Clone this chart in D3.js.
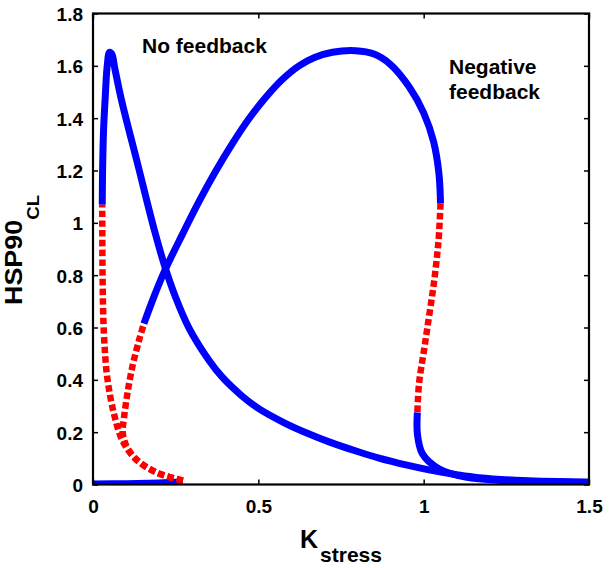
<!DOCTYPE html>
<html>
<head>
<meta charset="utf-8">
<script src="https://cdn.jsdelivr.net/npm/d3@7"></script>
<style>
  html, body { margin: 0; padding: 0; background: #fff; }
  svg { display: block; }
  text { font-family: Arial, "Liberation Sans", Helvetica, sans-serif; font-weight: bold; fill: #000; }
</style>
</head>
<body>
<div id="chart"></div>
<script>
// ---- Data ----
const xTicks = [0, 0.5, 1, 1.5];
const xTickLabels = ["0", "0.5", "1", "1.5"];
const yTicks = [0, 0.2, 0.4, 0.6, 0.8, 1.0, 1.2, 1.4, 1.6, 1.8];
const yTickLabels = ["0", "0.2", "0.4", "0.6", "0.8", "1", "1.2", "1.4", "1.6", "1.8"];

// No feedback: stable low branch (blue)
const noFbLowX = [0.003, 0.1, 0.2, 0.272];
const noFbLowY = [0.006, 0.007, 0.010, 0.013];
// No feedback: unstable branch (red dashed)
const noFbUnstX = [0.272, 0.19, 0.129, 0.089, 0.0635, 0.043, 0.033, 0.029, 0.028];
const noFbUnstY = [0.015, 0.047, 0.098, 0.168, 0.27, 0.41, 0.577, 0.794, 1.069];
// No feedback: stable high branch (blue)
const noFbHighX = [0.028, 0.029, 0.032, 0.037, 0.043, 0.05, 0.057, 0.066, 0.086, 0.136, 0.185, 0.218, 0.25, 0.29, 0.35, 0.391, 0.45, 0.5, 0.58, 0.65, 0.714, 0.8, 0.865, 0.95, 1.016, 1.1, 1.167, 1.3, 1.5];
const noFbHighY = [1.069, 1.2, 1.356, 1.48, 1.6, 1.652, 1.645, 1.59, 1.47, 1.22, 0.975, 0.83, 0.715, 0.599, 0.476, 0.41, 0.339, 0.291, 0.235, 0.195, 0.163, 0.126, 0.101, 0.074, 0.056, 0.0375, 0.026, 0.015, 0.009];

// Negative feedback: lower unstable branch (red dashed)
const negUnst1X = [0.272, 0.19, 0.129, 0.1, 0.09, 0.094, 0.104, 0.119, 0.139, 0.154];
const negUnst1Y = [0.015, 0.047, 0.098, 0.15, 0.2, 0.258, 0.347, 0.45, 0.55, 0.615];
// Negative feedback: high stable branch (blue)
const negHighX = [0.154, 0.185, 0.218, 0.27, 0.32, 0.37, 0.421, 0.47, 0.522, 0.57, 0.623, 0.67, 0.724, 0.794, 0.85, 0.9, 0.956, 1.0, 1.03, 1.046, 1.051];
const negHighY = [0.615, 0.72, 0.82, 0.955, 1.08, 1.195, 1.302, 1.395, 1.479, 1.545, 1.60, 1.632, 1.652, 1.658, 1.645, 1.605, 1.52, 1.42, 1.31, 1.19, 1.075];
// Negative feedback: upper unstable branch (red dashed)
const negUnst2X = [1.051, 1.046, 1.041, 1.031, 1.016, 1.001, 0.986, 0.981];
const negUnst2Y = [1.075, 0.95, 0.88, 0.77, 0.64, 0.513, 0.386, 0.275];
// Negative feedback: low stable branch (blue)
const negLowX = [0.981, 0.981, 0.996, 1.046, 1.127, 1.25, 1.5];
const negLowY = [0.275, 0.194, 0.118, 0.06, 0.028, 0.015, 0.009];

// ---- Layout ----
const W = 610, H = 568;
const mL = 93, mR = 589, mT = 13.5, mB = 484.5;
const blue = "#0000ff", red = "#ff0000";

const svg = d3.select("#chart").append("svg").attr("width", W).attr("height", H);

const x = d3.scaleLinear().domain([0, 1.5]).range([mL, mR]);
const y = d3.scaleLinear().domain([0, 1.8]).range([mB, mT]);

const zip = (xs, ys) => xs.map((v, i) => [v, ys[i]]);
const line = d3.line().x(d => x(d[0])).y(d => y(d[1])).curve(d3.curveCatmullRom.alpha(0.5));

const plot = svg.append("g");
plot.append("clipPath").attr("id", "clip").append("rect")
  .attr("x", mL).attr("y", mT).attr("width", mR - mL).attr("height", mB - mT);
const pg = plot.append("g").attr("clip-path", "url(#clip)");

function drawSolid(xs, ys, w) {
  pg.append("path").attr("d", line(zip(xs, ys)))
    .attr("fill", "none").attr("stroke", blue).attr("stroke-width", w || 7)
    .attr("stroke-linecap", "butt").attr("stroke-linejoin", "round");
}
function drawDashed(xs, ys) {
  pg.append("path").attr("d", line(zip(xs, ys)))
    .attr("fill", "none").attr("stroke", red).attr("stroke-width", 6.5)
    .attr("stroke-dasharray", "6.5,3.2").attr("stroke-linecap", "butt");
}

drawSolid(noFbLowX, noFbLowY, 5);
drawSolid(noFbHighX, noFbHighY);
drawSolid(negHighX, negHighY);
drawSolid(negLowX, negLowY);
drawDashed(noFbUnstX, noFbUnstY);
drawDashed(negUnst1X, negUnst1Y);
drawDashed(negUnst2X, negUnst2Y);

// ---- Axes (box with inward ticks on all sides) ----
const tickLen = 5;
const axB = d3.axisBottom(x).tickValues(xTicks).tickSize(-tickLen).tickFormat((d, i) => xTickLabels[i]).tickSizeOuter(0);
const axT = d3.axisTop(x).tickValues(xTicks).tickSize(-tickLen).tickFormat("").tickSizeOuter(0);
const axL = d3.axisLeft(y).tickValues(yTicks).tickSize(-tickLen).tickFormat((d, i) => yTickLabels[i]).tickSizeOuter(0);
const axR = d3.axisRight(y).tickValues(yTicks).tickSize(-tickLen).tickFormat("").tickSizeOuter(0);

function styleAxis(g) {
  g.select(".domain").remove();
  g.selectAll(".tick line").attr("stroke", "#000").attr("stroke-width", 1.5);
  g.selectAll(".tick text").attr("font-size", 19).attr("font-weight", "bold")
    .attr("font-family", "Arial, 'Liberation Sans', sans-serif").attr("fill", "#000");
}
const gB = svg.append("g").attr("transform", `translate(0,${mB})`).call(axB).call(styleAxis);
gB.selectAll(".tick text").attr("dy", null).attr("y", 28.5);
svg.append("g").attr("transform", `translate(0,${mT})`).call(axT).call(styleAxis);
const gL = svg.append("g").attr("transform", `translate(${mL},0)`).call(axL).call(styleAxis);
gL.selectAll(".tick text").attr("x", -10).attr("dy", "0.36em");
svg.append("g").attr("transform", `translate(${mR},0)`).call(axR).call(styleAxis);

svg.append("rect").attr("x", mL).attr("y", mT).attr("width", mR - mL).attr("height", mB - mT)
  .attr("fill", "none").attr("stroke", "#000").attr("stroke-width", 2.2);

// ---- Annotations ----
svg.append("text").attr("x", 142).attr("y", 53).attr("font-size", 21).text("No feedback");
svg.append("text").attr("x", 449).attr("y", 74).attr("font-size", 21).text("Negative");
svg.append("text").attr("x", 449).attr("y", 99).attr("font-size", 21).text("feedback");

// ---- Axis titles ----
const xl = svg.append("text").attr("x", 300).attr("y", 548).attr("font-size", 25);
xl.append("tspan").text("K");
xl.append("tspan").attr("dx", 2).attr("dy", 14).attr("font-size", 21).text("stress");

const yl = svg.append("text").attr("transform", "translate(22,305) rotate(-90) scale(1.17,1)").attr("font-size", 23);
yl.append("tspan").text("HSP90");
yl.append("tspan").attr("dy", 17).attr("font-size", 16).text("CL");
</script>
</body>
</html>
